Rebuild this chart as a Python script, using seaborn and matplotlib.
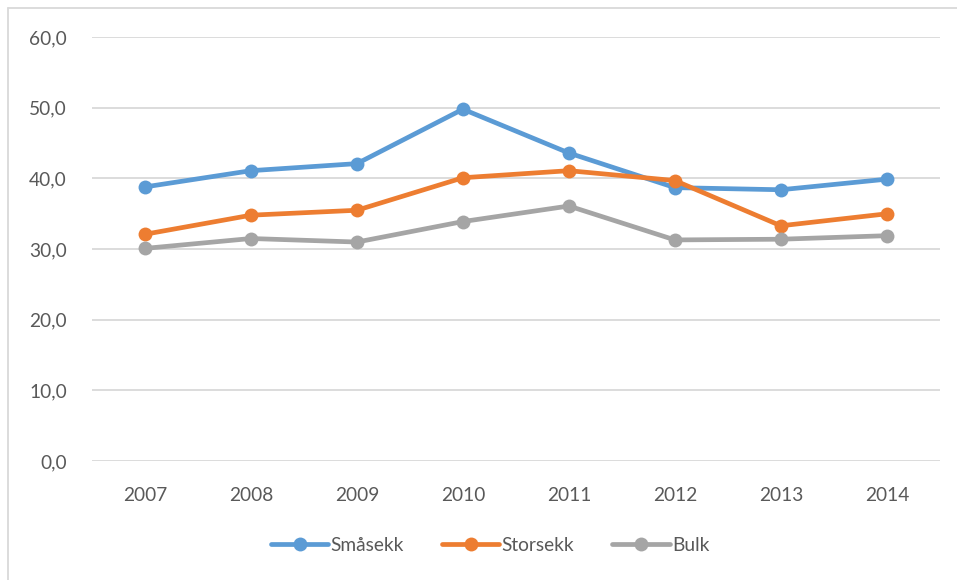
import pandas as pd
import matplotlib.pyplot as plt
import matplotlib.lines as mlines
import seaborn as sns

# Data
years = ["2007", "2008", "2009", "2010", "2011", "2012", "2013", "2014"]
smaasekk = [38.8, 41.1, 42.1, 49.8, 43.6, 38.7, 38.4, 39.9]
storsekk = [32.1, 34.8, 35.5, 40.1, 41.1, 39.7, 33.3, 35.0]
bulk = [30.1, 31.5, 31.0, 33.9, 36.1, 31.3, 31.4, 31.9]
series_names = ["Småsekk", "Storsekk", "Bulk"]
colors = ["#5B9BD5", "#ED7D31", "#A5A5A5"]

df = pd.DataFrame({
    "year": years * 3,
    "value": smaasekk + storsekk + bulk,
    "series": [s for s in series_names for _ in years],
})

sns.set_style("white")
plt.rcParams['font.family'] = ['Lato', 'DejaVu Sans']

fig = plt.figure(figsize=(9.57, 5.8), dpi=100)
ax = fig.add_axes([0.0961, 0.205, 0.886, 0.731])

sns.lineplot(data=df, x="year", y="value", hue="series", palette=colors,
             marker="o", markersize=10, markeredgewidth=0, linewidth=3.4,
             sort=False, legend=False, ax=ax)

ax.set_xlim(-0.5, len(years) - 0.5)
ax.set_ylim(0, 60)
ax.set_yticks(range(0, 61, 10))
ax.set_yticklabels([f"{v},0" for v in range(0, 61, 10)])
ax.yaxis.grid(True, color="#D9D9D9", linewidth=1.3)
ax.xaxis.grid(False)
ax.set_axisbelow(True)
for s in ax.spines.values():
    s.set_visible(False)
ax.tick_params(axis="both", length=0, labelsize=13.8, labelcolor="#595959")
ax.tick_params(axis="y", pad=18)
ax.tick_params(axis="x", pad=19)
ax.set_xlabel("")
ax.set_ylabel("")

handles = [mlines.Line2D([], [], color=c, linewidth=3.4, marker="o",
                         markersize=10, markeredgewidth=0)
           for c in colors]
fig.legend(handles, series_names, loc="center", bbox_to_anchor=(0.512, 0.06),
           ncol=3, frameon=False, fontsize=13.8, labelcolor="#595959",
           handlelength=3.0, handletextpad=0.1, columnspacing=2.0)

# chart frame (top and left edges visible)
fig.add_artist(mlines.Line2D([8 / 957, 1], [1 - 8 / 580, 1 - 8 / 580],
                             color="#D9D9D9", linewidth=1.3))
fig.add_artist(mlines.Line2D([8 / 957, 8 / 957], [0, 1 - 8 / 580],
                             color="#D9D9D9", linewidth=1.3))

plt.savefig("out.png", dpi=100)
